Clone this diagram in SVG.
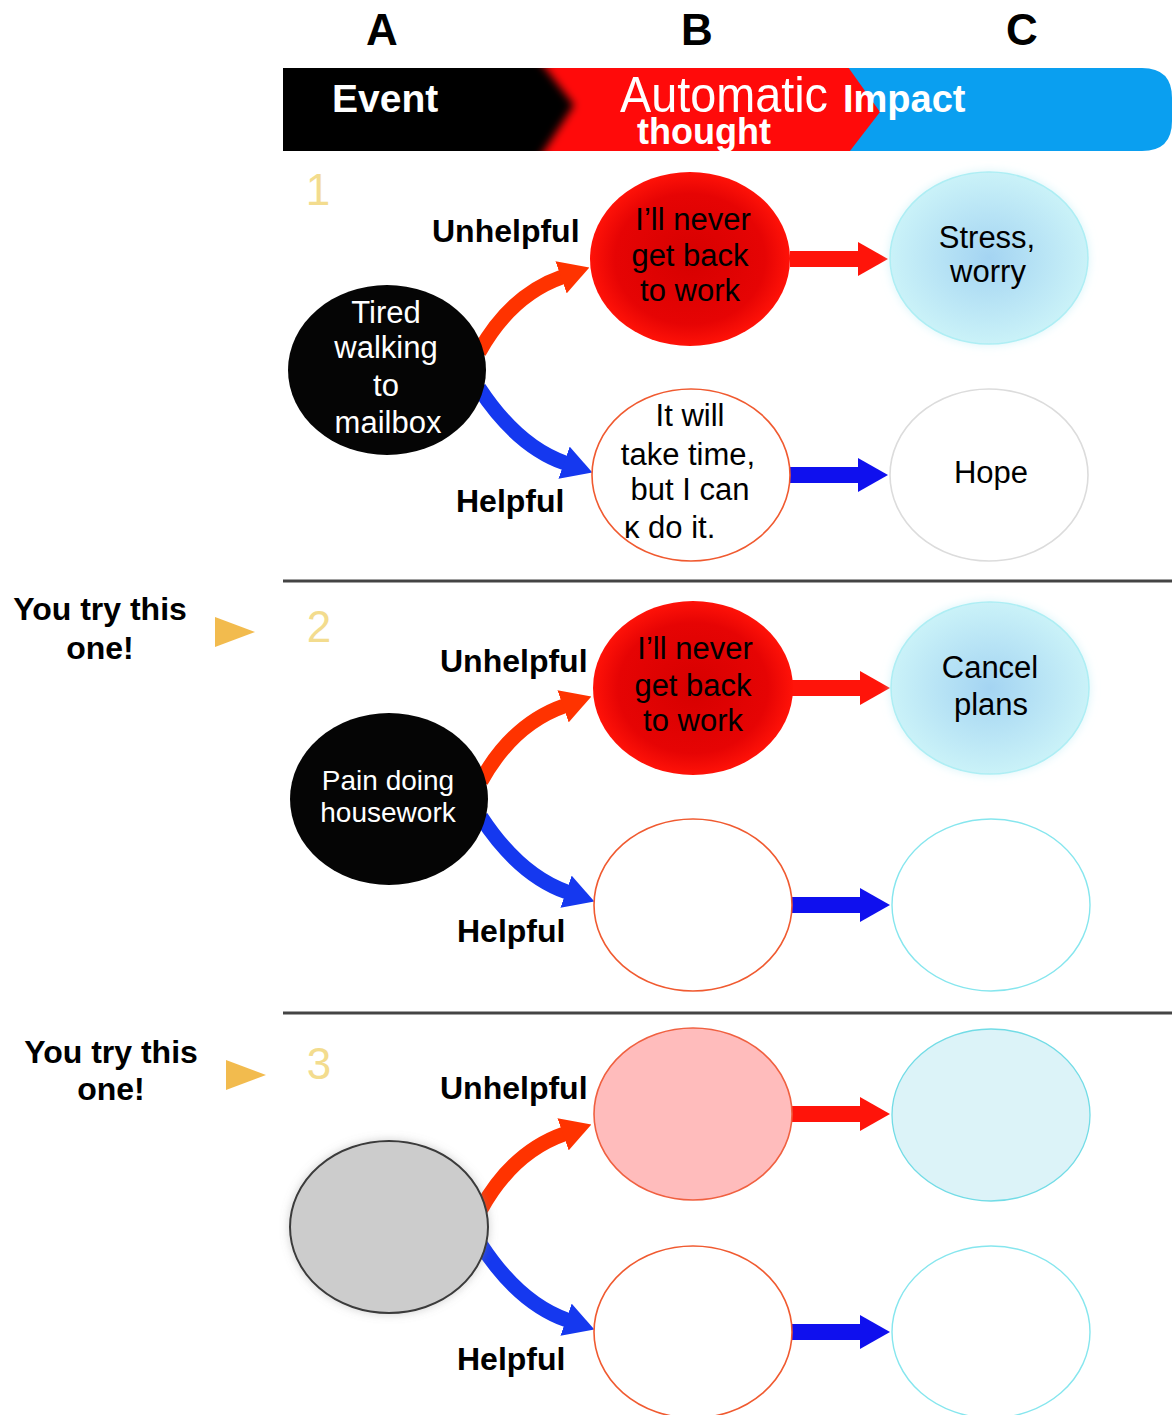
<svg xmlns="http://www.w3.org/2000/svg" width="1172" height="1415" viewBox="0 0 1172 1415">
<style>
text{font-family:"Liberation Sans",Arial,sans-serif}
.col{font-size:44px;font-weight:bold;fill:#000;text-anchor:middle}
.hd{font-weight:bold;fill:#fff}
.lbl{font-size:32px;font-weight:bold;fill:#000}
.try{font-size:32px;font-weight:bold;fill:#000;text-anchor:middle}
.num{font-size:44px;fill:#f3dc8e;text-anchor:middle}
.nt{font-size:31px;fill:#000;text-anchor:middle}
.ntl{font-size:31px;fill:#000;text-anchor:start}
.nw{font-size:31px;fill:#fff;text-anchor:middle}
.sep{stroke:#444;stroke-width:3}
.cr{fill:none;stroke:#ff3300;stroke-width:15}
.cb{fill:none;stroke:#1538ef;stroke-width:15}
.sr{fill:none;stroke:#ff140a;stroke-width:16}
.sb{fill:none;stroke:#0f10ee;stroke-width:16}
.ev{fill:#050505}
.th{fill:url(#redg)}
.thw{fill:#fff;stroke:#f05a30;stroke-width:1.6}
.imp{fill:url(#blueg);stroke:#aeeef4;stroke-width:1.5;filter:url(#glow)}
.impw{fill:#fff;stroke:#86e6ee;stroke-width:1.4}
.tri{fill:#f2bb4e}
</style>
<defs>
<radialGradient id="redg" cx="0.5" cy="0.5" r="0.5">
<stop offset="0" stop-color="#d60000"/>
<stop offset="0.75" stop-color="#e60404"/>
<stop offset="1" stop-color="#ff1208"/>
</radialGradient>
<radialGradient id="blueg" cx="0.5" cy="0.5" r="0.5">
<stop offset="0" stop-color="#a4d4f2"/>
<stop offset="1" stop-color="#caf2f8"/>
</radialGradient>
<filter id="glow" x="-20%" y="-20%" width="140%" height="140%">
<feGaussianBlur in="SourceAlpha" stdDeviation="5" result="b"/>
<feFlood flood-color="#bfeef6" flood-opacity="0.6"/>
<feComposite in2="b" operator="in" result="g"/>
<feMerge><feMergeNode in="g"/><feMergeNode in="SourceGraphic"/></feMerge>
</filter>
<filter id="shadow" x="-20%" y="-20%" width="140%" height="140%">
<feGaussianBlur in="SourceAlpha" stdDeviation="5" result="b"/>
<feFlood flood-color="#888" flood-opacity="0.4"/>
<feComposite in2="b" operator="in" result="g"/>
<feMerge><feMergeNode in="g"/><feMergeNode in="SourceGraphic"/></feMerge>
</filter>
<filter id="blur" x="-10%" y="-10%" width="120%" height="120%">
<feGaussianBlur stdDeviation="4"/>
</filter>
<clipPath id="barclip">
<path d="M283,68 H1142 Q1172,68 1172,98 V121 Q1172,151 1142,151 H283 Z"/>
</clipPath>
<marker id="hr" markerUnits="userSpaceOnUse" markerWidth="30" markerHeight="34" viewBox="0 0 30 34" refX="1" refY="17" orient="auto"><path d="M0,0 L30,17 L0,34 Z" fill="#ff3300"/></marker>
<marker id="hb" markerUnits="userSpaceOnUse" markerWidth="30" markerHeight="34" viewBox="0 0 30 34" refX="1" refY="17" orient="auto"><path d="M0,0 L30,17 L0,34 Z" fill="#1538ef"/></marker>
<marker id="hsr" markerUnits="userSpaceOnUse" markerWidth="30" markerHeight="34" viewBox="0 0 30 34" refX="1" refY="17" orient="auto"><path d="M0,0 L30,17 L0,34 Z" fill="#ff140a"/></marker>
<marker id="hsb" markerUnits="userSpaceOnUse" markerWidth="30" markerHeight="34" viewBox="0 0 30 34" refX="1" refY="17" orient="auto"><path d="M0,0 L30,17 L0,34 Z" fill="#0f10ee"/></marker>
</defs>
<rect width="1172" height="1415" fill="#fff"/>

<g id="header">
<text class="col" x="382" y="45">A</text>
<text class="col" x="697" y="45">B</text>
<text class="col" x="1022" y="45">C</text>
<g clip-path="url(#barclip)">
<rect x="283" y="68" width="889" height="83" fill="#0a9ff0"/>
<polygon points="283,60 843,60 880,112 843,160 283,160" fill="#ff0a0a"/>
<polygon points="270,55 535,55 574,105 535,165 270,165" fill="#060606" filter="url(#blur)"/>
</g>
<text class="hd" x="332" y="112" font-size="39">Event</text>
<text x="620" y="112" font-size="50" fill="#fff" textLength="208" lengthAdjust="spacingAndGlyphs">Automatic</text>
<text class="hd" x="843" y="112" font-size="38">Impact</text>
<text class="hd" x="637" y="144" font-size="36">thought</text>
</g>

<g id="separators">
<line class="sep" x1="283" y1="581" x2="1172" y2="581"/>
<line class="sep" x1="283" y1="1013" x2="1172" y2="1013"/>
</g>

<g id="labels">
<text class="num" x="318" y="205">1</text>
<text class="num" x="319" y="642">2</text>
<text class="num" x="319" y="1079">3</text>
<text class="lbl" x="432" y="242">Unhelpful</text>
<text class="lbl" x="456" y="512">Helpful</text>
<text class="lbl" x="440" y="672">Unhelpful</text>
<text class="lbl" x="457" y="942">Helpful</text>
<text class="lbl" x="440" y="1099">Unhelpful</text>
<text class="lbl" x="457" y="1370">Helpful</text>
<text class="try" x="100" y="620">You try this</text>
<text class="try" x="100" y="659">one!</text>
<polygon class="tri" points="215,617 255,632 215,647"/>
<text class="try" x="111" y="1063">You try this</text>
<text class="try" x="111" y="1100">one!</text>
<polygon class="tri" points="226,1060 266,1075 226,1090"/>
</g>

<g id="connectors">
<path class="cr" d="M479,352 C498,318 525,290 562,277" marker-end="url(#hr)"/>
<path class="cb" d="M479,388 C500,420 528,450 565,463" marker-end="url(#hb)"/>
<path class="sr" d="M790,259 H859" marker-end="url(#hsr)"/>
<path class="sb" d="M790,475 H859" marker-end="url(#hsb)"/>
<path class="cr" d="M481,781 C500,747 527,719 564,706" marker-end="url(#hr)"/>
<path class="cb" d="M481,817 C502,849 530,879 567,892" marker-end="url(#hb)"/>
<path class="sr" d="M792,688 H861" marker-end="url(#hsr)"/>
<path class="sb" d="M792,905 H861" marker-end="url(#hsb)"/>
<path class="cr" d="M481,1209 C500,1175 527,1147 564,1134" marker-end="url(#hr)"/>
<path class="cb" d="M481,1245 C502,1277 530,1307 567,1320" marker-end="url(#hb)"/>
<path class="sr" d="M792,1114 H861" marker-end="url(#hsr)"/>
<path class="sb" d="M792,1332 H861" marker-end="url(#hsb)"/>
</g>

<g id="event1">
<ellipse class="ev" cx="387" cy="370" rx="99" ry="85"/>
<text class="nw" x="386" y="323">Tired</text>
<text class="nw" x="386" y="358">walking</text>
<text class="nw" x="386" y="396">to</text>
<text class="nw" x="388" y="433">mailbox</text>
</g>
<g id="thought1u">
<ellipse class="th" cx="690" cy="259" rx="100" ry="87"/>
<text class="nt" x="693" y="230">I’ll never</text>
<text class="nt" x="690" y="266">get back</text>
<text class="nt" x="690" y="301">to work</text>
</g>
<g id="impact1u">
<ellipse class="imp" cx="989" cy="258" rx="99" ry="86"/>
<text class="nt" x="987" y="248">Stress,</text>
<text class="nt" x="988" y="282">worry</text>
</g>
<g id="thought1h">
<ellipse class="thw" cx="691" cy="475" rx="99" ry="86"/>
<text class="nt" x="690" y="426">It will</text>
<text class="nt" x="688" y="465">take time,</text>
<text class="nt" x="690" y="500">but I can</text>
<text class="ntl" x="624" y="538">κ do it.</text>
</g>
<g id="impact1h">
<ellipse cx="989" cy="475" rx="99" ry="86" fill="#fff" stroke="#dcdcdc" stroke-width="1.6"/>
<text class="nt" x="991" y="483">Hope</text>
</g>

<g id="event2">
<ellipse class="ev" cx="389" cy="799" rx="99" ry="86"/>
<text class="nw" x="388" y="790" style="font-size:28px">Pain doing</text>
<text class="nw" x="388" y="822" style="font-size:28px">housework</text>
</g>
<g id="thought2u">
<ellipse class="th" cx="693" cy="688" rx="100" ry="87"/>
<text class="nt" x="695" y="659">I’ll never</text>
<text class="nt" x="693" y="696">get back</text>
<text class="nt" x="693" y="731">to work</text>
</g>
<g id="impact2u">
<ellipse class="imp" cx="990" cy="688" rx="99" ry="86"/>
<text class="nt" x="990" y="678">Cancel</text>
<text class="nt" x="991" y="715">plans</text>
</g>
<g id="thought2h">
<ellipse class="thw" cx="693" cy="905" rx="99" ry="86"/>
</g>
<g id="impact2h">
<ellipse class="impw" cx="991" cy="905" rx="99" ry="86"/>
</g>

<g id="event3">
<ellipse cx="389" cy="1227" rx="99" ry="86" fill="#cccccc" stroke="#3a3a3a" stroke-width="2" filter="url(#shadow)"/>
</g>
<g id="thought3u">
<ellipse cx="693" cy="1114" rx="99" ry="86" fill="#ffbcbc" stroke="#f06040" stroke-width="1.6"/>
</g>
<g id="impact3u">
<ellipse cx="991" cy="1115" rx="99" ry="86" fill="#dcf3f8" stroke="#72dce6" stroke-width="1.3"/>
</g>
<g id="thought3h">
<ellipse class="thw" cx="693" cy="1332" rx="99" ry="86"/>
</g>
<g id="impact3h">
<ellipse class="impw" cx="991" cy="1332" rx="99" ry="86"/>
</g>
</svg>
